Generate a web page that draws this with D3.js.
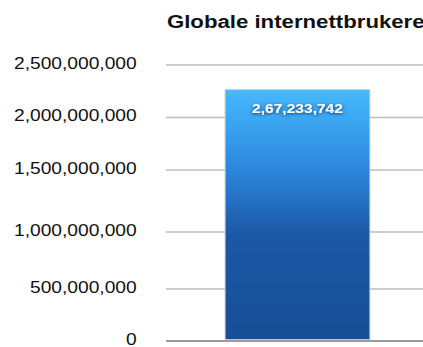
<!DOCTYPE html>
<html>
<head>
<meta charset="utf-8">
<script src="https://cdn.jsdelivr.net/npm/d3@7"></script>
<style>
  html, body { margin: 0; padding: 0; background: #fff; }
  svg { display: block; font-family: "Liberation Sans", Arial, Helvetica, sans-serif; }
</style>
</head>
<body>
<div id="chart"></div>
<script>
// Globale internettbrukere - single bar chart

const title = 'Globale internettbrukere';
const categories = ['Internettbrukere'];
const values = [2260000000];
const valueLabels = ['2,67,233,742'];
const yTicks = [0, 500000000, 1000000000, 1500000000, 2000000000, 2500000000];

const W = 423, H = 347;
const sx = 1.2; // the picture is stretched sideways
const innerW = W / sx;

const svg = d3.select('#chart').append('svg')
    .attr('width', W)
    .attr('height', H);

const defs = svg.append('defs');

const grad = defs.append('linearGradient')
    .attr('id', 'barGrad')
    .attr('x1', 0).attr('y1', 0).attr('x2', 0).attr('y2', 1);
grad.append('stop').attr('offset', '0%').attr('stop-color', '#46b9fd');
grad.append('stop').attr('offset', '30%').attr('stop-color', '#2e8ae0');
grad.append('stop').attr('offset', '58%').attr('stop-color', '#1b58a6');
grad.append('stop').attr('offset', '100%').attr('stop-color', '#174e96');

const shadow = defs.append('filter')
    .attr('id', 'txtShadow')
    .attr('x', '-20%').attr('y', '-50%').attr('width', '140%').attr('height', '200%');
shadow.append('feDropShadow')
    .attr('dx', 0).attr('dy', 1)
    .attr('stdDeviation', 1.8)
    .attr('flood-color', '#082f5e')
    .attr('flood-opacity', 1);

const root = svg.append('g').attr('transform', `scale(${sx},1)`);

const plotLeft = 138.3;

// y positions of the gridlines as they sit in the picture
const y = d3.scaleLinear()
    .domain(yTicks)
    .range([340.5, 288.5, 231.5, 169.5, 117, 64.5]);

const x = d3.scaleBand()
    .domain(categories)
    .range([plotLeft, 357.5])
    .paddingInner(0.29)
    .paddingOuter(0.29);

// Title
root.append('text')
    .attr('x', plotLeft + 0.8)
    .attr('y', 28)
    .attr('font-size', '18.5px')
    .attr('font-weight', 'bold')
    .attr('fill', '#111')
    .text(title);

// Axis with gridlines
const axis = root.append('g')
    .attr('class', 'y-axis')
    .attr('transform', `translate(${plotLeft},0)`)
    .call(d3.axisLeft(y)
        .tickValues(yTicks)
        .tickFormat(d3.format(','))
        .tickSize(-(innerW - plotLeft + 10))
        .tickPadding(24.4));

axis.select('.domain').remove();
axis.selectAll('.tick line')
    .attr('stroke', '#bdbdbd')
    .attr('stroke-width', 1.5);
axis.selectAll('.tick text')
    .attr('font-size', '16px')
    .attr('fill', '#111')
    .attr('dy', '0.24em');
axis.selectAll('.tick')
    .filter(d => d === 0)
    .select('line')
    .attr('stroke', '#9c9c9c')
    .attr('stroke-width', 2);

// Bar
const bars = root.append('g').attr('class', 'bars');

bars.selectAll('rect')
    .data(values)
    .enter()
    .append('rect')
    .attr('x', (d, i) => x(categories[i]))
    .attr('y', d => y(d))
    .attr('width', x.bandwidth())
    .attr('height', d => y(0) - 1 - y(d))
    .attr('fill', 'url(#barGrad)')
    .attr('stroke', '#c9c9c9')
    .attr('stroke-width', 0.8);

bars.selectAll('text')
    .data(values)
    .enter()
    .append('text')
    .attr('x', (d, i) => x(categories[i]) + x.bandwidth() / 2)
    .attr('y', d => y(d) + 23)
    .attr('text-anchor', 'middle')
    .attr('font-size', '13px')
    .attr('font-weight', 'bold')
    .attr('fill', '#fff')
    .attr('filter', 'url(#txtShadow)')
    .text((d, i) => valueLabels[i]);
</script>
</body>
</html>
